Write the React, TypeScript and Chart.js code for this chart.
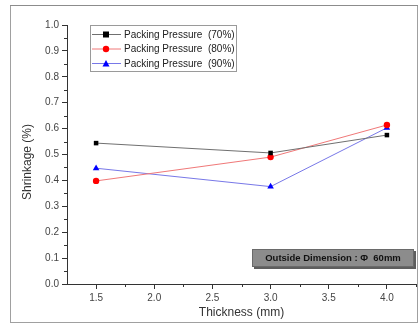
import React, { useEffect, useRef } from "react";
import { Chart, registerables } from "chart.js";

Chart.register(...registerables);

// Shrinkage measurements per wall thickness
const thickness = [1.5, 3.0, 4.0];
const shrink70 = [0.544, 0.506, 0.575];
const shrink80 = [0.398, 0.49, 0.614];
const shrink90 = [0.447, 0.376, 0.603];

const seriesLabels = [
  "Packing Pressure  (70%)",
  "Packing Pressure  (80%)",
  "Packing Pressure  (90%)",
];

const xMajorTicks = [1.5, 2.0, 2.5, 3.0, 3.5, 4.0];
const yMajorTicks = [0, 0.1, 0.2, 0.3, 0.4, 0.5, 0.6, 0.7, 0.8, 0.9, 1.0];
const xMinorTicks = [1.75, 2.25, 2.75, 3.25, 3.75, 4.25];
const yMinorTicks = [0.05, 0.15, 0.25, 0.35, 0.45, 0.55, 0.65, 0.75, 0.85, 0.95];

const xTitle = "Thickness (mm)";
const yTitle = "Shrinkage (%)";
const noteText = "Outside Dimension : \u03A6  60mm";

const FONT = "'Liberation Sans', Arial, sans-serif";

const toPoints = (ys: number[]) => thickness.map((x, i) => ({ x, y: ys[i] }));

const seriesStyles = [
  { line: "#707070", fill: "#000000", shape: "rect", r: 3.2 },
  { line: "#f07878", fill: "#ff0000", shape: "circle", r: 3.2 },
  { line: "#7878e8", fill: "#0000ff", shape: "triangle", r: 3.8 },
];

const decorPlugin = {
  id: "decor",
  beforeDraw(chart: any) {
    const ctx = chart.ctx;
    ctx.save();
    ctx.fillStyle = "#ffffff";
    ctx.fillRect(0, 0, chart.width, chart.height);
    ctx.restore();
  },
  afterDraw(chart: any) {
    const ctx = chart.ctx;
    const xs = chart.scales.x;
    const ys = chart.scales.y;
    const area = chart.chartArea;
    ctx.save();

    // outer frame
    ctx.strokeStyle = "#a0a0a0";
    ctx.lineWidth = 1;
    ctx.strokeRect(10.5, 5.5, 407, 317);
    ctx.strokeStyle = "#8c8c8c";
    ctx.beginPath();
    ctx.moveTo(10, 5.5);
    ctx.lineTo(418, 5.5);
    ctx.stroke();

    // minor ticks
    ctx.strokeStyle = "#333";
    ctx.beginPath();
    xMinorTicks.forEach((v) => {
      const px = Math.round(xs.getPixelForValue(v)) + 0.5;
      ctx.moveTo(px, area.bottom);
      ctx.lineTo(px, area.bottom + 3);
    });
    yMinorTicks.forEach((v) => {
      const py = Math.round(ys.getPixelForValue(v)) + 0.5;
      ctx.moveTo(area.left, py);
      ctx.lineTo(area.left - 3, py);
    });
    ctx.stroke();

    // axis titles
    ctx.fillStyle = "#333";
    ctx.font = `12px ${FONT}`;
    ctx.textAlign = "center";
    ctx.textBaseline = "middle";
    ctx.fillText(xTitle, (area.left + area.right) / 2, 313);
    ctx.save();
    ctx.translate(28, 162);
    ctx.rotate(-Math.PI / 2);
    ctx.fillText(yTitle, 0, 0);
    ctx.restore();

    // legend
    ctx.strokeStyle = "#9a9a9a";
    ctx.strokeRect(90.5, 25.5, 146, 46);
    const rows = [34, 48.5, 63];
    chart.data.datasets.forEach((ds: any, i: number) => {
      const st = seriesStyles[i];
      const y = rows[i];
      ctx.strokeStyle = st.line;
      ctx.lineWidth = 1;
      ctx.beginPath();
      ctx.moveTo(92, y + 0.5);
      ctx.lineTo(121, y + 0.5);
      ctx.stroke();
      ctx.fillStyle = st.fill;
      ctx.beginPath();
      if (st.shape === "rect") {
        ctx.rect(106 - 3, y + 0.5 - 3, 6, 6);
      } else if (st.shape === "circle") {
        ctx.arc(106, y + 0.5, 3.2, 0, Math.PI * 2);
      } else {
        ctx.moveTo(106, y - 3);
        ctx.lineTo(109.5, y + 3.5);
        ctx.lineTo(102.5, y + 3.5);
        ctx.closePath();
      }
      ctx.fill();
      ctx.fillStyle = "#222";
      ctx.font = `10px ${FONT}`;
      ctx.textAlign = "left";
      ctx.textBaseline = "middle";
      ctx.fillText(ds.label, 124, y + 1);
    });

    // dimension note
    ctx.fillStyle = "#5e5e5e";
    ctx.fillRect(254, 251, 162, 18);
    ctx.fillStyle = "#8c8c8c";
    ctx.fillRect(252, 249, 162, 18);
    ctx.strokeStyle = "#6a6a6a";
    ctx.strokeRect(252.5, 249.5, 161, 17);
    ctx.fillStyle = "#111";
    ctx.font = `bold 9.5px ${FONT}`;
    ctx.textAlign = "center";
    ctx.textBaseline = "middle";
    ctx.fillText(noteText, 333, 258.5);

    ctx.restore();
  },
};

export default function App() {
  const canvasRef = useRef<HTMLCanvasElement | null>(null);

  useEffect(() => {
    document.body.style.margin = "0";
    const canvas = canvasRef.current;
    if (!canvas) return;

    const datasets = [shrink70, shrink80, shrink90].map((ys, i) => ({
      label: seriesLabels[i],
      data: toPoints(ys),
      showLine: true,
      borderColor: seriesStyles[i].line,
      borderWidth: 1,
      pointStyle: seriesStyles[i].shape,
      pointRadius: seriesStyles[i].r,
      pointBackgroundColor: seriesStyles[i].fill,
      pointBorderColor: seriesStyles[i].fill,
      pointBorderWidth: 0,
      tension: 0,
    }));

    const chart = new Chart(canvas, {
      type: "scatter",
      data: { datasets },
      plugins: [decorPlugin],
      options: {
        animation: false,
        responsive: false,
        devicePixelRatio: 1,
        layout: { padding: { left: 0, top: 25, right: 4, bottom: 0 } },
        plugins: {
          legend: { display: false },
          tooltip: { enabled: false },
        },
        scales: {
          x: {
            type: "linear",
            min: 1.25,
            max: 4.25,
            afterBuildTicks: (s: any) => {
              s.ticks = xMajorTicks.map((v) => ({ value: v }));
            },
            afterFit: (s: any) => {
              s.height = 41;
            },
            grid: {
              drawOnChartArea: false,
              drawTicks: true,
              tickLength: 5,
              color: "#333",
            },
            border: { display: true, color: "#333", width: 1 },
            ticks: {
              padding: 3,
              color: "#444",
              font: { family: FONT, size: 10 },
              callback: (v: any) => Number(v).toFixed(1),
              maxRotation: 0,
              autoSkip: false,
            },
          },
          y: {
            type: "linear",
            min: 0,
            max: 1,
            afterBuildTicks: (s: any) => {
              s.ticks = yMajorTicks.map((v) => ({ value: v }));
            },
            afterFit: (s: any) => {
              s.width = 67;
            },
            grid: {
              drawOnChartArea: false,
              drawTicks: true,
              tickLength: 5,
              color: "#333",
            },
            border: { display: true, color: "#333", width: 1 },
            ticks: {
              padding: 3,
              color: "#444",
              font: { family: FONT, size: 10 },
              callback: (v: any) => Number(v).toFixed(1),
              autoSkip: false,
            },
          },
        },
      } as any,
    });

    return () => chart.destroy();
  }, []);

  return (
    <canvas
      ref={canvasRef}
      width={420}
      height={325}
      style={{ display: "block", width: 420, height: 325 }}
    />
  );
}
